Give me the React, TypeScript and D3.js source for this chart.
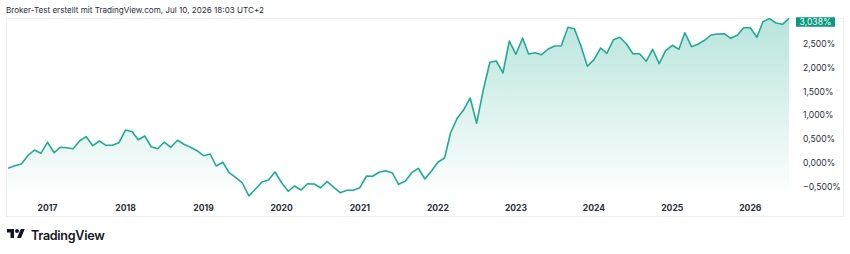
import React from 'react';
import * as d3 from 'd3';

const title = 'Broker-Test erstellt mit TradingView.com, Jul 10, 2026 18:03 UTC+2';
const brand = 'TradingView';
const startYear = 2016;
const startMonth = 6; // July
const values = [
  -0.111, -0.057, -0.021, 0.153, 0.273, 0.204,
  0.435, 0.216, 0.330, 0.321, 0.300, 0.468, 0.553, 0.363, 0.462, 0.372, 0.372, 0.426,
  0.693, 0.658, 0.489, 0.567, 0.342, 0.300, 0.441, 0.330, 0.477, 0.395, 0.330, 0.258,
  0.153, 0.189, -0.063, 0.015, -0.204, -0.309, -0.420, -0.693, -0.546, -0.399, -0.357, -0.189,
  -0.414, -0.594, -0.483, -0.567, -0.435, -0.441, -0.519, -0.393, -0.511, -0.624, -0.574, -0.574,
  -0.519, -0.273, -0.279, -0.195, -0.162, -0.204, -0.447, -0.384, -0.204, -0.111, -0.336, -0.174,
  0.015, 0.105, 0.630, 0.939, 1.113, 1.366, 0.834, 1.534, 2.116, 2.143, 1.891, 2.563,
  2.284, 2.626, 2.290, 2.317, 2.275, 2.395, 2.458, 2.464, 2.851, 2.821, 2.458, 2.032,
  2.172, 2.416, 2.305, 2.590, 2.641, 2.500, 2.296, 2.296, 2.137, 2.389, 2.088, 2.359,
  2.473, 2.389, 2.737, 2.443, 2.494, 2.578, 2.689, 2.710, 2.716, 2.620, 2.683, 2.842,
  2.842, 2.641, 2.968, 3.034, 2.941, 2.914, 3.038,
];
const yTicks = [-0.5, 0, 0.5, 1, 1.5, 2, 2.5];
const yearTicks = [2017, 2018, 2019, 2020, 2021, 2022, 2023, 2024, 2025, 2026];

const LINE = '#22ab94';
const LABEL_BG = '#089981';
const TEXT = '#2a2e39';
const FONT = 'Inter, "Noto Sans", sans-serif';

const fmt = (v: number) =>
  (v < 0 ? '\u2212' : '') + Math.abs(v).toFixed(3).replace('.', ',') + '%';

export default function App() {
  const W = 850, H = 254;
  const pane = { left: 6, top: 18, right: 790, bottom: 197 };
  const frame = { left: 6, top: 18, right: 843, bottom: 216 };

  const data = values.map((v, i) => ({ date: new Date(startYear, startMonth + i, 1), v }));

  const x = d3.scaleTime()
    .domain([new Date(2017, 0, 1), new Date(2026, 0, 1)])
    .range([47.5, 750.3]);
  const y = d3.scaleLinear().domain([0, 1]).range([163, 115.4]);

  const line = d3.line<{ date: Date; v: number }>()
    .x(d => x(d.date))
    .y(d => y(d.v));
  const area = d3.area<{ date: Date; v: number }>()
    .x(d => x(d.date))
    .y0(pane.bottom)
    .y1(d => y(d.v));

  const last = data[data.length - 1];
  const labelCy = Math.max(y(last.v), pane.top + 4);

  return (
    <svg width={W} height={H} style={{ position: 'absolute', left: 0, top: 0, background: '#fff' }}>
      <defs>
        <linearGradient id="fillGrad" gradientUnits="userSpaceOnUse" x1={0} y1={pane.top} x2={0} y2={pane.bottom}>
          <stop offset="0" stopColor={LINE} stopOpacity={0.32} />
          <stop offset="1" stopColor={LINE} stopOpacity={0.0} />
        </linearGradient>
        <clipPath id="paneClip">
          <rect x={pane.left} y={pane.top} width={pane.right - pane.left} height={pane.bottom - pane.top} />
        </clipPath>
      </defs>
      <text x={6} y={12.5} fontFamily={FONT} fontSize={8.1} fill={TEXT}>{title}</text>
      <rect x={frame.left + 0.5} y={frame.top + 0.5} width={frame.right - frame.left} height={frame.bottom - frame.top}
        fill="none" stroke="#eeeff2" strokeWidth={1} />
      <g clipPath="url(#paneClip)">
        <path d={area(data) || ''} fill="url(#fillGrad)" />
        <path d={line(data) || ''} fill="none" stroke={LINE} strokeWidth={1.6} strokeLinejoin="round" />
      </g>
      {yTicks.map(t => (
        <text key={t} x={803} y={y(t)} dy="0.35em" fontFamily={FONT} fontSize={8.6} fill={TEXT}>{fmt(t)}</text>
      ))}
      <rect x={796} y={labelCy - 4.8} width={39} height={9.6} fill={LABEL_BG} rx={0.5} />
      <text x={815.5} y={labelCy} dy="0.35em" textAnchor="middle" fontFamily={FONT} fontSize={8.6} fill="#fff">{fmt(last.v)}</text>
      {yearTicks.map(yr => (
        <text key={yr} x={x(new Date(yr, 0, 1))} y={208} dy="0.35em" textAnchor="middle" fontFamily={FONT}
          fontSize={8.6} fontWeight={650} fill={TEXT}>{yr}</text>
      ))}
      <g transform="translate(7,227) scale(0.5)" fill="#131722">
        <path d="M14 22H7V11H0V4h14v18zM28 22h-8l7.5-18h8L28 22z" />
        <circle cx={20} cy={8} r={4} />
      </g>
      <text x={31} y={240} fontFamily={FONT} fontSize={12.6} fontWeight={600} fill="#131722" letterSpacing={-0.3}>{brand}</text>
    </svg>
  );
}
